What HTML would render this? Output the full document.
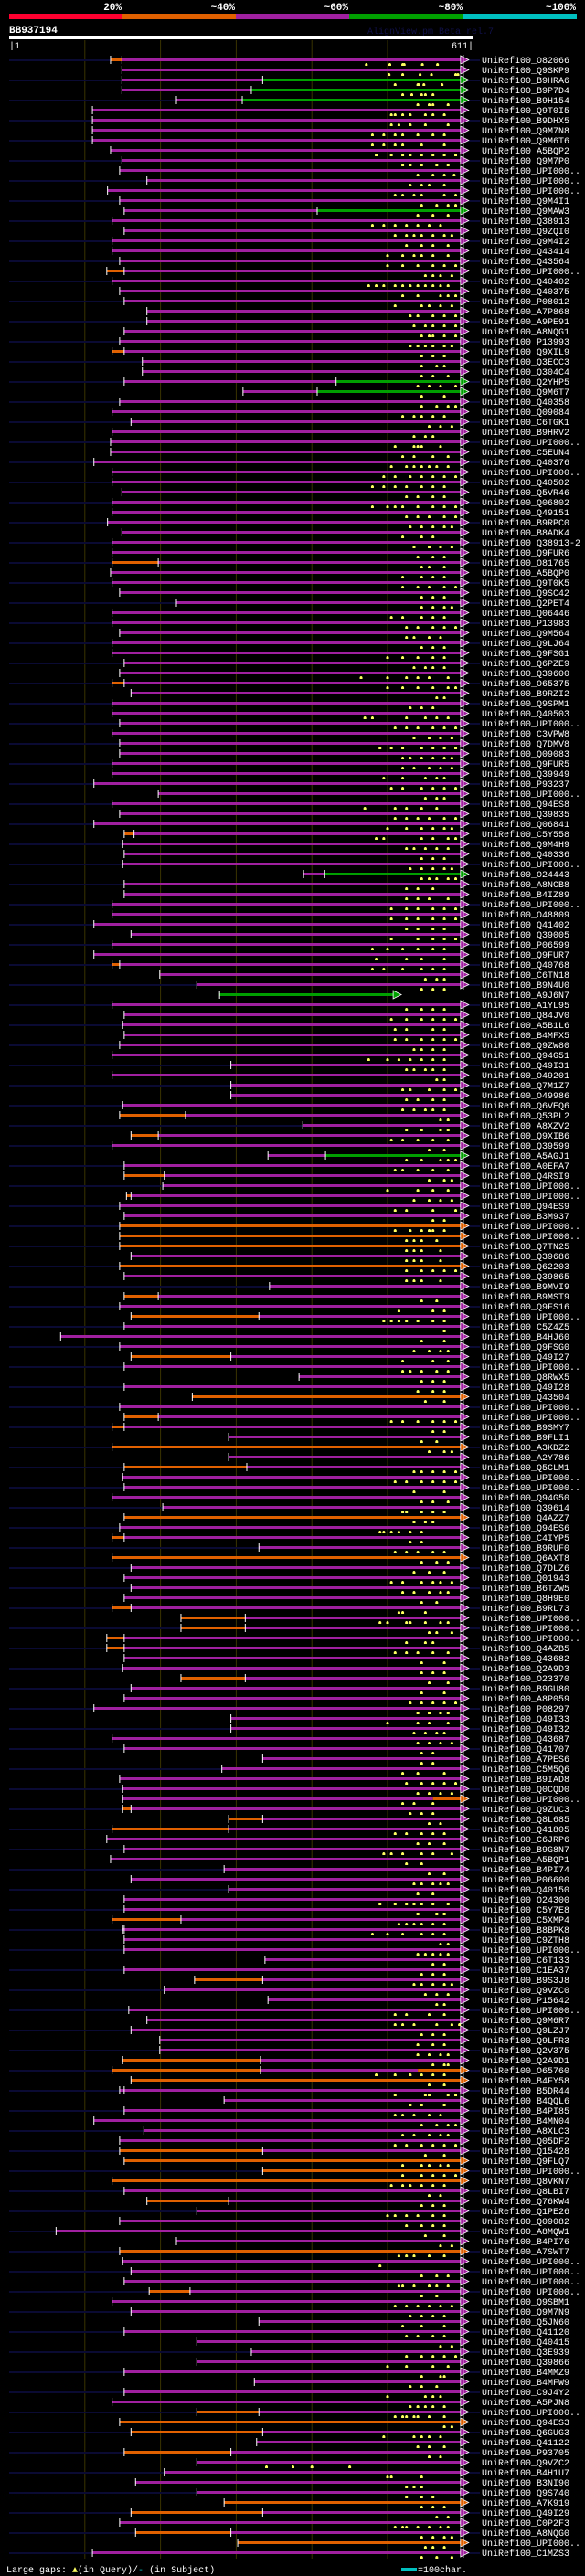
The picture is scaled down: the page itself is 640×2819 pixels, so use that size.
<!DOCTYPE html>
<html><head><meta charset="utf-8">
<style>
html,body{margin:0;padding:0;background:#000;}
svg{display:block;}
text{font-family:"Liberation Mono","DejaVu Sans Mono",monospace;}
</style></head>
<body>
<svg id="chart" xmlns="http://www.w3.org/2000/svg" width="640" height="2819" viewBox="0 0 640 2819">
<rect x="0" y="0" width="640" height="2819" fill="#000"/>
<g>
<text x="133" y="11" fill="#fff" font-size="11" font-weight="bold" text-anchor="end">20%</text>
<text x="257" y="11" fill="#fff" font-size="11" font-weight="bold" text-anchor="end">~40%</text>
<text x="381" y="11" fill="#fff" font-size="11" font-weight="bold" text-anchor="end">~60%</text>
<text x="506" y="11" fill="#fff" font-size="11" font-weight="bold" text-anchor="end">~80%</text>
<text x="630" y="11" fill="#fff" font-size="11" font-weight="bold" text-anchor="end">~100%</text>
<rect x="10" y="15" width="124" height="6" fill="#ff0030"/>
<rect x="134" y="15" width="124" height="6" fill="#e06000"/>
<rect x="258" y="15" width="124" height="6" fill="#a020a0"/>
<rect x="382" y="15" width="124" height="6" fill="#00a000"/>
<rect x="506" y="15" width="125" height="6" fill="#00c0c0"/>
</g>
<text x="10" y="36" fill="#fff" font-size="11" font-weight="bold">BB937194</text>
<text x="402" y="37" fill="#101048" font-size="10">AlignView.pm Beta rel.7</text>
<rect x="10" y="39" width="508" height="4" fill="#fff"/>
<text x="10" y="53" fill="#fff" font-size="10">|1</text>
<text x="518" y="53" fill="#fff" font-size="10" text-anchor="end">611|</text>
<g id="grid"></g>
<g id="rows"></g>
<g>
<text x="7" y="2815" fill="#fff" font-size="10">Large gaps: <tspan fill="#ffff60">▲</tspan>(in Query)/<tspan fill="#00c0c0">-</tspan> (in Subject)</text>
<rect x="439" y="2810" width="17" height="3" fill="#00c0c0"/>
<text x="457" y="2815" fill="#fff" font-size="10">=100char.</text>
</g>
</svg>
<script>
const labels = ["O82066","Q9SKP9","B9HRA6","B9P7D4","B9H154","Q9T0I5","B9DHX5","Q9M7N8","Q9M6T6","A5BQP2","Q9M7P0","UPI000..","UPI000..","UPI000..","Q9M4I1","Q9MAW3","Q38913","Q9ZQI0","Q9M4I2","Q43414","Q43564","UPI000..","Q40402","Q40375","P08012","A7P868","A9PE91","A8NQG1","P13993","Q9XIL9","Q3ECC3","Q304C4","Q2YHP5","Q9M6T7","Q40358","Q09084","C6TGK1","B9HRV2","UPI000..","C5EUN4","Q40376","UPI000..","Q40502","Q5VR46","Q06802","Q49151","B9RPC0","B8ADK4","Q38913-2","Q9FUR6","O81765","A5BQP0","Q9T0K5","Q9SC42","Q2PET4","Q06446","P13983","Q9M564","Q9LJ64","Q9FSG1","Q6PZE9","Q39600","O65375","B9RZI2","Q9SPM1","Q40503","UPI000..","C3VPW8","Q7DMV8","Q09083","Q9FUR5","Q39949","P93237","UPI000..","Q94ES8","Q39835","Q06841","C5Y558","Q9M4H9","Q40336","UPI000..","O24443","A8NCB8","B4IZ89","UPI000..","O48809","Q41402","Q39005","P06599","Q9FUR7","Q40768","C6TN18","B9N4U0","A9J6N7","A1YL95","Q84JV0","A5B1L6","B4MFX5","Q9ZW80","Q94G51","Q49I31","O49201","Q7M1Z7","O49986","Q6VEQ6","Q53PL2","A8XZV2","Q9XIB6","Q39599","A5AGJ1","A0EFA7","Q4RSI9","UPI000..","UPI000..","Q94ES9","B3M937","UPI000..","UPI000..","Q7TN25","Q39686","Q62203","Q39865","B9MVI9","B9MST9","Q9FS16","UPI000..","C5Z4Z5","B4HJ60","Q9FSG0","Q49I27","UPI000..","Q8RWX5","Q49I28","Q43504","UPI000..","UPI000..","B9SMY7","B9FLI1","A3KDZ2","A2Y786","Q5CLM1","UPI000..","UPI000..","Q94G50","Q39614","Q4AZZ7","Q94ES6","C4IYP5","B9RUF0","Q6AXT8","Q7DLZ6","Q01943","B6TZW5","Q8H9E0","B9RL73","UPI000..","UPI000..","UPI000..","Q4AZB5","Q43682","Q2A9D3","O23370","B9GU80","A8P059","P08297","Q49I33","Q49I32","Q43687","Q41707","A7PES6","C5M5Q6","B9IAD8","Q0CQD0","UPI000..","Q9ZUC3","Q8L685","Q41805","C6JRP6","B9G8N7","A5BQP1","B4PI74","P06600","Q40150","O24300","C5Y7E8","C5XMP4","B8BPK8","C9ZTH8","UPI000..","C6T133","C1EA37","B9S3J8","Q9VZC0","P15642","UPI000..","Q9M6R7","Q9LZJ7","Q9LFR3","Q2V375","Q2A9D1","O65760","B4FY58","B5DR44","B4QQL6","B4PI85","B4MN04","A8XLC3","Q05DF2","Q15428","Q9FLQ7","UPI000..","Q8VKN7","Q8LBI7","Q76KW4","Q1PE26","Q09082","A8MQW1","B4PI76","A7SWT7","UPI000..","UPI000..","UPI000..","UPI000..","Q9SBM1","Q9M7N9","Q5JN60","Q41120","Q40415","Q3E939","Q39866","B4MMZ9","B4MFW9","C9J4Y2","A5PJN8","UPI000..","Q94ES3","Q6GUG3","Q41122","P93705","Q9VZC2","B4H1U7","B3NI90","Q9S740","A7K919","Q49I29","C0P2F3","A8NQG0","UPI000..","C1MZS3"];
const starts = [134,149,149,149,221,110,110,110,110,134,149,146,182,130,146,152,136,152,136,136,146,129,136,146,152,182,182,152,146,136,176,176,152,309,146,136,161,136,134,134,112,136,136,149,136,136,130,149,136,136,136,134,136,146,221,136,136,146,136,136,152,146,136,161,136,136,146,136,146,146,136,136,112,197,136,146,112,152,150,152,150,389,152,152,136,136,112,161,136,112,136,199,248,278,136,152,150,152,146,136,293,136,293,293,150,146,388,161,136,342,152,152,203,155,146,152,146,146,146,161,146,152,344,152,146,161,152,68,146,161,152,383,152,242,146,152,136,290,136,290,152,150,152,136,203,152,146,136,330,136,161,152,161,152,136,227,227,129,129,152,150,227,161,152,112,293,293,136,152,335,281,146,150,150,150,290,136,129,152,134,284,161,290,152,152,136,152,152,152,338,152,245,205,342,158,182,161,199,199,150,136,161,152,284,152,112,178,146,146,152,335,136,152,182,248,146,62,221,146,150,161,152,185,136,161,330,152,248,320,248,152,324,152,136,248,146,161,327,152,248,205,167,248,284,161,146,167,302,110];
const orangeEnds = [149,0,0,0,0,0,0,0,0,0,0,0,0,0,0,0,0,0,0,0,0,152,0,0,0,0,0,0,0,152,0,0,0,0,0,0,0,0,0,0,0,0,0,0,0,0,0,0,0,0,197,0,0,0,0,0,0,0,0,0,0,0,152,0,0,0,0,0,0,0,0,0,0,0,0,0,0,165,0,0,0,0,0,0,0,0,0,0,0,0,146,0,0,0,0,0,0,0,0,0,0,0,0,0,0,233,0,197,0,0,0,205,0,161,0,0,600,600,600,0,600,0,0,197,0,330,0,0,0,293,0,0,0,600,0,197,152,0,600,0,314,0,0,0,0,600,0,152,0,600,0,0,0,0,161,312,312,152,152,0,0,312,0,0,0,0,0,0,0,0,0,0,0,0,161,335,290,0,0,0,0,0,0,0,0,227,150,0,0,0,0,335,0,0,0,0,0,0,0,332,332,600,146,0,0,0,0,0,335,600,600,600,0,290,0,0,0,0,600,0,0,0,239,0,0,0,0,0,0,0,0,0,0,0,330,600,335,0,293,0,0,0,0,600,335,0,293,600,0,0,338];
const greenStarts = {2:335,3:320,4:308,15:407,32:432,33:407,81:417,93:278,109:418};
const tailOrange = {173:560,200:540};
const ends = {93:511};
const gaps = [
"472 503 520 522 546 566","502 520 543 558 590 593","510 540 541 548 572","520 532 545 550 560","540 555 560 580","505 510 520 530 550 560 575","505 515 530 550 580","480 495 510 520 540 560 575","480 495 510 520 545 575","485 505 520 530 545 560 575 590",
"520 530 545 565 580","540 560 575 588","530 545 555 575","510 520 535 545 575 590","545 565 580 590","540 560 580","480 495 510 525 540 555 570","510 525 535 545 560 575 585","525 545 560 580","500 520 535 545 560 580",
"500 520 540 560 575 590","550 560 570 585","475 485 495 510 520 530 540 550 560 570 580","520 540 570 580 590","510 545 555 570 585","530 540 560 575 590","535 550 560 575 590","545 555 560 575 590","530 540 550 560 575 585","545 560 575",
"545 565 575","545 560 580","540 555 570 590","545 575","545 565 580 590","520 535 545 560 575","555 570 585","535 550 560","510 535 540 545 570","520 535 560 580",
"505 525 535 545 555 565 580","495 510 530 545 560 575 590","480 495 510 525 545 560 575","525 540 560 575","480 500 510 520 540 560 575 590","525 540 555 575 590","530 545 560 575 585","520 545 560","535 555 570 585","540 560 575",
"545 555 575","520 545 560 575","520 540 555 575 590","545 560 575","545 560 575 585","505 520 545 560 575","525 540 560 575 590","525 535 555 570","545 560 575","500 520 540 560 575",
"535 550 560 575","465 500 525 540 555 580","500 520 540 560 580 590","565 575","530 545 560","470 480 525 550 565 580","510 525 540 560 575 590","535 555 570 585","490 505 520 545 560 575 590","520 530 545 560 575 585",
"520 535 555 570 585","495 520 550 565 575","505 520 545 560 575 590","550 565 575","470 510 525 545 565","510 525 540 555 575 590","500 525 545 560 575 585","485 495 545 560 580 590","525 535 550 565 580","545 560 575",
"530 545 560 575 585","545 555 565 580 590","525 540 560","525 540 555 580","505 525 540 560 575 590","505 525 540 560 575 590","525 540 560 575","505 540 560 575 590","480 500 520 540 560 575","485 525 545 575",
"480 495 520 545 560 575","550 565 575","545 560 575","","525 545 560 575","505 525 545 560 575 590","510 525 560 575","510 525 545 560 575 590","535 545 560 575","475 500 515 530 545 560 575",
"525 535 550 560 575","565 575","520 530 555 575 590","525 540 560 575","520 535 550 560 575","570 580","525 545 570 580","505 520 540 560 580","555 575","525 545 570 580 590",
"510 520 540 560 580","555 575 585","500 540 560 580","535 555 570 585","510 525 560 590","560 575","510 530 545 555 560 575","525 535 545 565","525 535 545 570","525 535 545 570",
"525 545 560 575 590","525 535 545 570","","545 565","515 560 575","495 505 515 525 540 560 575","575","545 575","535 555 570 580","520 560 580",
"520 530 545 565 580","545 560 575","540 560 575","550 575","","505 520 540 560 575 590","560 575","545 565","555 575 585","",
"535 545 560 575 590","510 525 545 560 575 590","535 575","545 560 580","520 525 545 560 575","535 550 560","490 495 505 515 530 545","530 545","510 525 540 560 575","545 565 580",
"535 555 575","505 520 545 560 570 585","520 535 555 570 580","545 565","515 520 550","490 500 525 530 550 570 580","555 565 585","525 550 560","510 525 540 560 580","545 575",
"545 560 575","555 580","545 575","530 545 560 575 590","540 555 570 580","500 540 555 580","535 550 565 575","540 555 570 585","545 560","545 560",
"520 540 575","525 545 560 575 590","540 555 570 585","520 535 560","530 545 560","555 570","510 525 545 560 575","540 555 575","495 505 520 545 560 585","525 545",
"555 575","535 545 560 570 580","540 560","490 510 525 535 545 560 580","540 565 575","515 525 535 545 560 575","480 500 520 545 560 575","570 580","540 550 560 570 580","560 575",
"545 560 575","535 545 560 575 585","550 565 580","565 575","510 525 555 575","510 520 535 565 585 595","545 560 575","540 560 575","540 555 570 580","560 575 580",
"485 510 530 545 560 575","555 575","510 550 555 580 590","530 545 575","510 520 535 555 570","545 565 580 590","520 535 555 570 580","510 525 545 560 575 590","550 575","520 545 555 570 580",
"520 545 560 575 590","505 520 530 545 560 575","555 570","545 560 575","500 510 525 540 560 575","525 545 560 575","550 575","570 585","515 525 535 555 575","490",
"545 565 580","515 520 535 555 565 580","545 565","510 525 540 555 570 585","530 545 560 575","520 545 575","525 540 560 575","570 585","525 545 560 575 590","500 525 560 580",
"545 570 575","530 545 565","500 550 560 570","530 540 550 560 575","510 520 525 535 540 555 575","575 585","495 535 545 555 570","540 555 575","555 570","340 375 400 450",
"500 505 545","525 535 545","525 545 560","545 560 575","565 580","510 520 525 540 555 570 580","545 560 575 585","550 560 575","545 565 585","540 555 570 580 590",
"500 515 530 545 560 575 585","535","480 495 515 530 545 560 575","540 570","515 525 545 560 575","545 560 575","535 570 580","545 565 580","535 545 575","550 580",
"495 550 570","545 560","555","535 550 575","545 560 575","555 565","495 555 580","565 580","485 505 525 565 590"];
const X0 = 10, KX = 0.828, ROW0 = 65, PITCH = 11, ENDQ = 600;
function xq(q){ return X0 + KX*q; }
function yr(i){ return ROW0 + PITCH*i; }
const NS = "http://www.w3.org/2000/svg";
const grid = document.getElementById('grid');
const rowsG = document.getElementById('rows');
function mk(tag, attrs, parent){ const e=document.createElementNS(NS,tag); for(const k in attrs) e.setAttribute(k, attrs[k]); parent.appendChild(e); return e; }
const gridTicks = [100,200,300,400,500];
gridTicks.forEach(function(t){
  const l = mk('line',{x1:xq(t),x2:xq(t),y1:44,y2:2800,stroke:'#3a3300','stroke-width':1},grid);
  
  
});
const MAG='#a020a0', ORA='#e06000', GRN='#00a000';
for(let i=0;i<labels.length;i++){
  const y = yr(i);
  const g = mk('g',{},rowsG);
  
  
  if(i%2===0){
    const n = mk('rect',{x:10,y:y,width:515,height:2,fill:'#0a0a33'},g);
    
    
  }
  const s = starts[i];
  const e = (ends[i]!==undefined)?ends[i]:ENDQ;
  const oe = orangeEnds[i];
  const gs = greenStarts[i];
  const to = tailOrange[i];
  const segs = [];
  let cur = s;
  if(oe>0){ segs.push([s, Math.min(oe,e), ORA]); cur = Math.min(oe,e); }
  if(cur<e){
    if(gs!==undefined){ if(gs>cur) segs.push([cur,gs,MAG]); segs.push([Math.max(gs,cur),e,GRN]); }
    else if(to!==undefined){ segs.push([cur,to,MAG]); segs.push([to,e,ORA]); }
    else segs.push([cur,e,MAG]);
  }
  let lastColor = MAG;
  segs.forEach(function(sg){
    const r = mk('rect',{x:xq(sg[0]),y:y-1,width:Math.max(0,xq(sg[1])-xq(sg[0])),height:3,fill:sg[2]},g);
    
    
    lastColor = sg[2];
  });
  const gp = gaps[i].trim()==='' ? [] : gaps[i].trim().split(/\s+/).map(Number);
  gp.forEach(function(q){
    const mx = xq(q);
    const m = mk('polygon',{points:(mx-1.5)+','+(y+7)+' '+(mx+1.5)+','+(y+7)+' '+(mx+1.5)+','+(y+5)+' '+(mx+0.5)+','+(y+4)+' '+(mx-0.5)+','+(y+4)+' '+(mx-1.5)+','+(y+5),fill:'#ffff60'},g);
    
    
  });
  const t1 = mk('rect',{x:xq(s)-0.5,y:y-4,width:1,height:9,fill:'#fff'},g);
  
  
  if(oe>0 && oe<e){
    const t2 = mk('rect',{x:xq(oe)-0.5,y:y-4,width:1,height:9,fill:'#fff'},g);
    
    
  }
  if(gs!==undefined && gs>s){
    const t3 = mk('rect',{x:xq(gs)-0.5,y:y-4,width:1,height:9,fill:'#fff'},g);
    
    
  }
  const xe = xq(e);
  const ar = mk('polygon',{points:(xe-3)+','+(y-4)+' '+(xe+6)+','+(y+0.5)+' '+(xe-3)+','+(y+5),fill:lastColor,stroke:'#fff','stroke-width':0.8},g);
  
  
  if(e===ENDQ){
    const el = mk('rect',{x:xe-0.5,y:y-5,width:1,height:11,fill:'#fff'},g);
    
    
  }
  const tx = mk('text',{x:527,y:y+4,fill:'#fff','font-size':10},g);
  tx.textContent = 'UniRef100_' + labels[i];
  
  
}
</script>
</body></html>
